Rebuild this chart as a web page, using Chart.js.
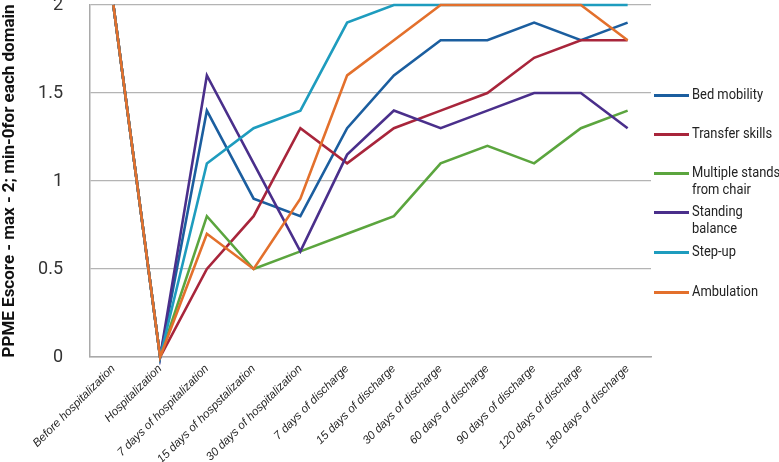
<!DOCTYPE html>
<html>
<head>
<meta charset="utf-8">
<script src="https://cdn.jsdelivr.net/npm/chart.js@4/dist/chart.umd.min.js"></script>
<style>
  html, body { margin: 0; padding: 0; background: #fff; }
  #wrap { position: relative; width: 779px; height: 462px; overflow: hidden; }
  #legend { position: absolute; left: 0; top: 0; width: 779px; height: 462px; pointer-events: none; }
  .item { position: absolute; left: 654px; font-family: Roboto, "Liberation Sans", sans-serif; font-size: 15px; color: #222; line-height: 17px; }
  .item .swatch { position: absolute; left: 0; width: 35px; height: 3px; }
  .item .txt { position: absolute; left: 38px; white-space: nowrap; transform: scaleX(0.86); transform-origin: left top; }
</style>
</head>
<body>
<div id="wrap">
  <canvas id="myChart" width="779" height="462"></canvas>
  <div id="legend"></div>
</div>
<script>
const labels = [
    'Before hospitalization',
    'Hospitalization',
    '7 days of hospitalization',
    '15 days of hospstalization',
    '30 days of hospitalization',
    '7 days of discharge',
    '15 days of discharge',
    '30 days of discharge',
    '60 days of discharge',
    '90 days of discharge',
    '120 days of discharge',
    '180 days of discharge'
];

const bedMobility     = [2, 0, 1.4, 0.9, 0.8, 1.3, 1.6, 1.8, 1.8, 1.9, 1.8, 1.9];
const transferSkills  = [2, 0, 0.5, 0.8, 1.3, 1.1, 1.3, 1.4, 1.5, 1.7, 1.8, 1.8];
const multipleStands  = [2, 0, 0.8, 0.5, 0.6, 0.7, 0.8, 1.1, 1.2, 1.1, 1.3, 1.4];
const standingBalance = [2, 0, 1.6, 1.1, 0.6, 1.15, 1.4, 1.3, 1.4, 1.5, 1.5, 1.3];
const stepUp          = [2, 0, 1.1, 1.3, 1.4, 1.9, 2, 2, 2, 2, 2, 2];
const ambulation      = [2, 0, 0.7, 0.5, 0.9, 1.6, 1.8, 2, 2, 2, 2, 1.8];

const yTicks = [0, 0.5, 1, 1.5, 2];

const series = [
    { label: 'Bed mobility', data: bedMobility, color: '#1b5e9f', legend: ['Bed mobility'] },
    { label: 'Transfer skills', data: transferSkills, color: '#a8253b', legend: ['Transfer skills'] },
    { label: 'Multiple stands from chair', data: multipleStands, color: '#5ba53e', legend: ['Multiple stands', 'from chair'] },
    { label: 'Standing balance', data: standingBalance, color: '#4a2f8b', legend: ['Standing', 'balance'] },
    { label: 'Step-up', data: stepUp, color: '#1e9cbe', legend: ['Step-up'] },
    { label: 'Ambulation', data: ambulation, color: '#e3702c', legend: ['Ambulation'] }
];

// legend rows (top of the text block)
const legendTops = [86, 125, 164, 203, 243, 283];

const sans = 'Roboto, "Liberation Sans", sans-serif';

const ctx = document.getElementById('myChart').getContext('2d');
const myChart = new Chart(ctx, {
    type: 'line',
    data: {
        labels: labels,
        datasets: series.map((s, i) => ({
            label: s.label,
            data: s.data,
            borderColor: s.color,
            backgroundColor: s.color,
            borderWidth: 2.6,
            pointRadius: 0,
            tension: 0,
            fill: false,
            order: series.length - i
        }))
    },
    options: {
        responsive: false,
        animation: false,
        clip: false,
        layout: { padding: { top: 5, right: 128, left: 0, bottom: 0 } },
        plugins: {
            legend: { display: false },
            tooltip: { enabled: false }
        },
        scales: {
            x: {
                offset: true,
                grid: { display: false, drawTicks: false },
                border: { display: true, color: '#a9a9a9', width: 1.5 },
                ticks: {
                    autoSkip: false,
                    maxRotation: 45,
                    minRotation: 45,
                    padding: 5,
                    color: '#262626',
                    font: { family: '"Liberation Sans", Arial, sans-serif', size: 11.6, style: 'italic' }
                },
                afterFit: (scale) => { scale.height = 105; }
            },
            y: {
                min: 0,
                max: 2,
                afterBuildTicks: (scale) => { scale.ticks = yTicks.map(v => ({ value: v })); },
                grid: { color: '#b4b4b4', lineWidth: 1.3, drawTicks: false },
                border: { display: true, color: '#a9a9a9', width: 1.5 },
                ticks: {
                    padding: 27,
                    color: '#333',
                    font: { family: sans, size: 18 },
                    callback: (v) => String(v)
                },
                title: {
                    display: true,
                    text: 'PPME Escore - max - 2; min-0for each domain',
                    color: '#111',
                    padding: { top: 0, bottom: 0 },
                    font: { family: sans, size: 17, weight: 'bold' }
                },
                afterFit: (scale) => {
                    scale.width = 90;
                    scale.paddingTop = 0;
                    scale.paddingBottom = 0;
                }
            }
        }
    }
});

const legendEl = document.getElementById('legend');
series.forEach((s, i) => {
    const item = document.createElement('div');
    item.className = 'item';
    item.style.top = legendTops[i] + 'px';
    const sw = document.createElement('div');
    sw.className = 'swatch';
    sw.style.background = s.color;
    sw.style.top = '8px';
    const txt = document.createElement('div');
    txt.className = 'txt';
    txt.innerHTML = s.legend.join('<br>');
    item.appendChild(sw);
    item.appendChild(txt);
    legendEl.appendChild(item);
});
</script>
</body>
</html>
